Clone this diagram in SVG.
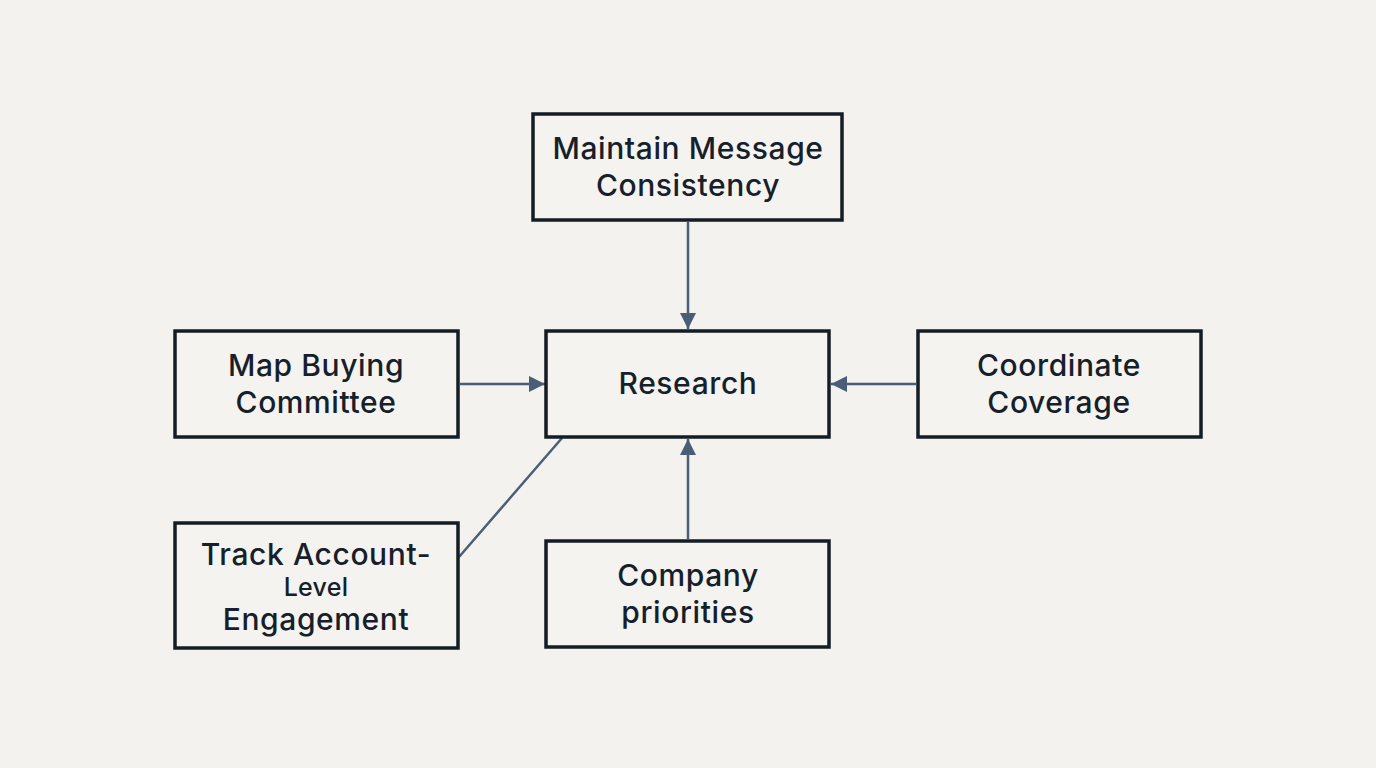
<svg xmlns="http://www.w3.org/2000/svg" width="1376" height="768" viewBox="0 0 1376 768">
<defs>
<style>
.box{fill:#f4f3ef;stroke:#141c24;stroke-width:3.5}
.t{font-family:Inter,"Liberation Sans",sans-serif;font-size:30px;font-weight:500;letter-spacing:0.6px;fill:#16202b;text-anchor:middle}
.s{font-size:25px;letter-spacing:0.3px}
.c{stroke:#4a5e78;stroke-width:2.5;fill:none}
</style>
<marker id="a" viewBox="0 0 10 10" refX="10" refY="5" markerWidth="6.5" markerHeight="6.5" markerUnits="strokeWidth" orient="auto">
<path d="M0,0 L10,5 L0,10 z" fill="#4a5e78"/>
</marker>
</defs>
<rect width="1376" height="768" fill="#f3f2ee"/>
<g id="connectors">
<line class="c" x1="688" y1="222" x2="688" y2="329" marker-end="url(#a)"/>
<line class="c" x1="460" y1="384" x2="545" y2="384" marker-end="url(#a)"/>
<line class="c" x1="916" y1="384" x2="831" y2="384" marker-end="url(#a)"/>
<line class="c" x1="688" y1="539" x2="688" y2="439" marker-end="url(#a)"/>
<line class="c" x1="459" y1="557" x2="562" y2="438"/>
</g>
<g id="maintain">
<rect class="box" x="533" y="114" width="309" height="106"/>
<text class="t" x="688" y="159">Maintain Message</text>
<text class="t" x="688" y="196">Consistency</text>
</g>
<g id="research">
<rect class="box" x="546" y="331" width="283" height="106"/>
<text class="t" x="688" y="394">Research</text>
</g>
<g id="map">
<rect class="box" x="175" y="331" width="283" height="106"/>
<text class="t" x="316" y="376">Map Buying</text>
<text class="t" x="316" y="413">Committee</text>
</g>
<g id="coordinate">
<rect class="box" x="918" y="331" width="283" height="106"/>
<text class="t" x="1059" y="376">Coordinate</text>
<text class="t" x="1059" y="413">Coverage</text>
</g>
<g id="track">
<rect class="box" x="175" y="523" width="283" height="125"/>
<text class="t" x="316" y="565">Track Account-</text>
<text class="t s" x="316" y="596">Level</text>
<text class="t" x="316" y="630">Engagement</text>
</g>
<g id="company">
<rect class="box" x="546" y="541" width="283" height="106"/>
<text class="t" x="688" y="586">Company</text>
<text class="t" x="688" y="623">priorities</text>
</g>
</svg>
